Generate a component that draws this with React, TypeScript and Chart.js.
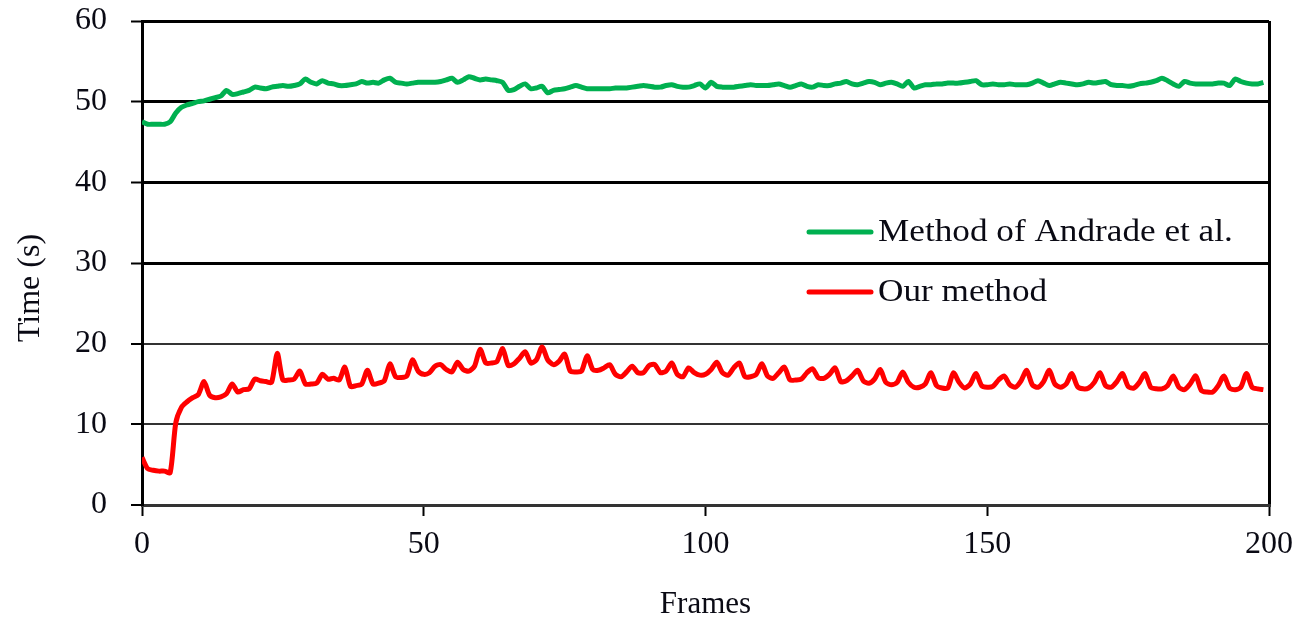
import React, { useEffect, useRef } from "react";
import { Chart, registerables } from "chart.js";

Chart.register(...registerables);

const frameCount = 200;
const frames: number[] = Array.from({ length: frameCount }, (_, i) => i);

const andradeTimes: number[] = [
  47.5, 47.2, 47.2, 47.2, 47.2, 47.5, 48.6, 49.3, 49.6, 49.8,
  50.0, 50.1, 50.3, 50.5, 50.7, 51.4, 50.9, 51.0, 51.2, 51.4,
  51.8, 51.7, 51.6, 51.8, 51.9, 52.0, 51.9, 52.0, 52.2, 52.8,
  52.4, 52.2, 52.6, 52.3, 52.2, 52.0, 52.0, 52.1, 52.2, 52.5,
  52.3, 52.4, 52.3, 52.7, 52.9, 52.4, 52.3, 52.2, 52.3, 52.4,
  52.4, 52.4, 52.4, 52.5, 52.7, 52.9, 52.4, 52.7, 53.1, 52.9,
  52.7, 52.8, 52.7, 52.6, 52.4, 51.4, 51.5, 51.9, 52.2, 51.6,
  51.7, 51.9, 51.1, 51.4, 51.5, 51.6, 51.8, 52.0, 51.8, 51.6,
  51.6, 51.6, 51.6, 51.6, 51.7, 51.7, 51.7, 51.8, 51.9, 52.0,
  51.9, 51.8, 51.8, 52.0, 52.1, 51.9, 51.8, 51.8, 52.0, 52.2,
  51.7, 52.4, 51.9, 51.8, 51.8, 51.8, 51.9, 52.0, 52.1, 52.0,
  52.0, 52.0, 52.1, 52.2, 52.0, 51.8, 52.0, 52.2, 51.9, 51.8,
  52.1, 52.0, 52.0, 52.2, 52.3, 52.5, 52.2, 52.1, 52.3, 52.5,
  52.4, 52.1, 52.3, 52.4, 52.2, 51.9, 52.5, 51.7, 51.9, 52.1,
  52.1, 52.2, 52.2, 52.3, 52.3, 52.3, 52.4, 52.5, 52.6, 52.1,
  52.1, 52.2, 52.1, 52.1, 52.2, 52.1, 52.1, 52.1, 52.3, 52.6,
  52.3, 52.0, 52.2, 52.4, 52.3, 52.2, 52.1, 52.2, 52.4, 52.3,
  52.4, 52.5, 52.1, 52.0, 52.0, 51.9, 52.0, 52.2, 52.3, 52.4,
  52.6, 52.9, 52.6, 52.2, 51.9, 52.5, 52.3, 52.2, 52.2, 52.2,
  52.2, 52.3, 52.3, 52.0, 52.8, 52.5, 52.3, 52.2, 52.2, 52.4,
];

const ourTimes: number[] = [
  5.9, 4.5, 4.3, 4.2, 4.2, 4.0, 10.2, 12.1, 12.8, 13.3,
  13.7, 15.3, 13.6, 13.3, 13.4, 13.8, 15.0, 14.0, 14.3, 14.4,
  15.6, 15.4, 15.3, 15.2, 18.8, 15.5, 15.5, 15.6, 16.6, 15.0,
  15.0, 15.1, 16.2, 15.6, 15.7, 15.5, 17.1, 14.7, 14.8, 15.0,
  16.7, 15.0, 15.1, 15.4, 17.5, 15.9, 15.8, 16.0, 18.0, 16.6,
  16.2, 16.4, 17.2, 17.4, 16.8, 16.5, 17.7, 16.8, 16.6, 17.2,
  19.3, 17.6, 17.6, 17.8, 19.4, 17.3, 17.5, 18.2, 19.0, 17.6,
  18.0, 19.6, 18.0, 17.4, 17.8, 18.7, 16.6, 16.5, 16.6, 18.5,
  16.8, 16.7, 17.0, 17.4, 16.2, 15.9, 16.5, 17.2, 16.4, 16.4,
  17.3, 17.4, 16.4, 16.6, 17.6, 16.2, 15.9, 17.0, 16.4, 16.1,
  16.2, 16.8, 17.7, 16.4, 16.1, 17.0, 17.6, 15.9, 15.9, 16.2,
  17.5, 16.0, 15.7, 16.4, 17.1, 15.5, 15.5, 15.6, 16.4, 16.9,
  15.8, 15.7, 16.2, 17.0, 15.3, 15.4, 16.0, 16.7, 15.4, 15.1,
  15.6, 16.8, 15.2, 14.9, 15.2, 16.5, 15.2, 14.6, 14.6, 15.0,
  16.4, 14.8, 14.5, 14.5, 16.4, 15.2, 14.5, 15.0, 16.3, 14.8,
  14.6, 14.7, 15.5, 16.0, 14.9, 14.6, 15.4, 16.7, 14.9, 14.6,
  15.3, 16.7, 15.0, 14.6, 15.0, 16.3, 14.7, 14.4, 14.5, 15.2,
  16.4, 14.8, 14.6, 15.3, 16.3, 14.7, 14.5, 15.2, 16.3, 14.6,
  14.4, 14.4, 14.8, 16.0, 14.6, 14.3, 15.0, 16.0, 14.2, 14.0,
  14.0, 14.8, 16.0, 14.5, 14.3, 14.6, 16.3, 14.6, 14.4, 14.3,
];

const seriesLabels: string[] = ["Method of Andrade et al.", "Our method"];
const seriesColors: string[] = ["#00B050", "#FF0000"];
const xTitle = "Frames";
const yTitle = "Time (s)";

const FONT = "'Liberation Serif', 'Times New Roman', serif";
const TEXT = "#0a0a14";

const legendPlugin = {
  id: "insideLegend",
  afterDatasetsDraw(chart: any) {
    const { ctx } = chart;
    const items = chart.data.datasets;
    const lineX0 = 809;
    const lineX1 = 871;
    const textX = 878;
    const ys = [232, 292];
    ctx.save();
    items.forEach((ds: any, i: number) => {
      const y = ys[i];
      ctx.strokeStyle = ds.borderColor;
      ctx.lineWidth = 5;
      ctx.lineCap = "round";
      ctx.beginPath();
      ctx.moveTo(lineX0, y);
      ctx.lineTo(lineX1, y);
      ctx.stroke();
      ctx.save();
      ctx.translate(textX, y + 1);
      ctx.scale(1.1, 1);
      ctx.fillStyle = TEXT;
      ctx.font = `32px ${FONT}`;
      ctx.textAlign = "left";
      ctx.textBaseline = "middle";
      ctx.fillText(ds.label, 0, 0);
      ctx.restore();
    });
    ctx.restore();
  },
};

const yTitlePlugin = {
  id: "yTitle",
  afterDraw(chart: any) {
    const { ctx } = chart;
    ctx.save();
    ctx.translate(31, 288);
    ctx.rotate(-Math.PI / 2);
    ctx.fillStyle = TEXT;
    ctx.font = `32px ${FONT}`;
    ctx.textAlign = "center";
    ctx.textBaseline = "middle";
    ctx.fillText(yTitle, 0, 0);
    ctx.restore();
  },
};

export default function App() {
  const canvasRef = useRef<HTMLCanvasElement | null>(null);

  useEffect(() => {
    if (!canvasRef.current) return;
    const chart = new Chart(canvasRef.current, {
      type: "line",
      data: {
        datasets: [
          {
            label: seriesLabels[0],
            data: frames.map((f, i) => ({ x: f, y: andradeTimes[i] })),
            borderColor: seriesColors[0],
            borderWidth: 5,
            pointRadius: 0,
            tension: 0.25,
            fill: false,
          },
          {
            label: seriesLabels[1],
            data: frames.map((f, i) => ({ x: f, y: ourTimes[i] })),
            borderColor: seriesColors[1],
            borderWidth: 5,
            pointRadius: 0,
            tension: 0.25,
            fill: false,
          },
        ],
      },
      options: {
        animation: false,
        responsive: true,
        maintainAspectRatio: false,
        layout: { padding: { top: 21, right: 28, left: 0, bottom: 0 } },
        plugins: {
          legend: { display: false },
          tooltip: { enabled: false },
        },
        scales: {
          x: {
            type: "linear",
            min: 0,
            max: 200,
            afterFit: (scale: any) => {
              scale.height = 112;
              scale.paddingLeft = 0;
              scale.paddingRight = 0;
            },
            ticks: {
              stepSize: 50,
              color: TEXT,
              padding: 9,
              font: { family: FONT, size: 32 },
              maxRotation: 0,
            },
            grid: {
              drawOnChartArea: true,
              color: (c: any) => (c.tick && c.tick.value === 200 ? "#000" : "rgba(0,0,0,0)"),
              lineWidth: 3,
              tickColor: "#000",
              tickWidth: 2,
              tickLength: 11,
            },
            border: { display: true, color: "#333", width: 3 },
            title: {
              display: true,
              text: xTitle,
              color: TEXT,
              font: { family: FONT, size: 31, lineHeight: 1 },
              padding: { top: 0, bottom: -3 },
            },
          },
          y: {
            type: "linear",
            min: 0,
            max: 60,
            afterFit: (scale: any) => {
              scale.width = 142;
              scale.paddingTop = 0;
              scale.paddingBottom = 0;
            },
            ticks: {
              stepSize: 10,
              color: TEXT,
              padding: 24,
              font: { family: FONT, size: 32 },
            },
            grid: {
              color: (c: any) => (c.tick && c.tick.value >= 30 ? "#000" : "#333"),
              lineWidth: (c: any) => (c.tick && c.tick.value >= 30 ? 3 : 2),
              tickColor: "#000",
              tickWidth: 2,
              tickLength: 11,
            },
            border: { display: true, color: "#000", width: 3 },
            title: { display: false },
          },
        },
      },
      plugins: [legendPlugin, yTitlePlugin],
    });
    return () => chart.destroy();
  }, []);

  return (
    <div style={{ position: "fixed", left: 0, top: 0, width: 1297, height: 617, background: "#fff" }}>
      <canvas ref={canvasRef} />
    </div>
  );
}
